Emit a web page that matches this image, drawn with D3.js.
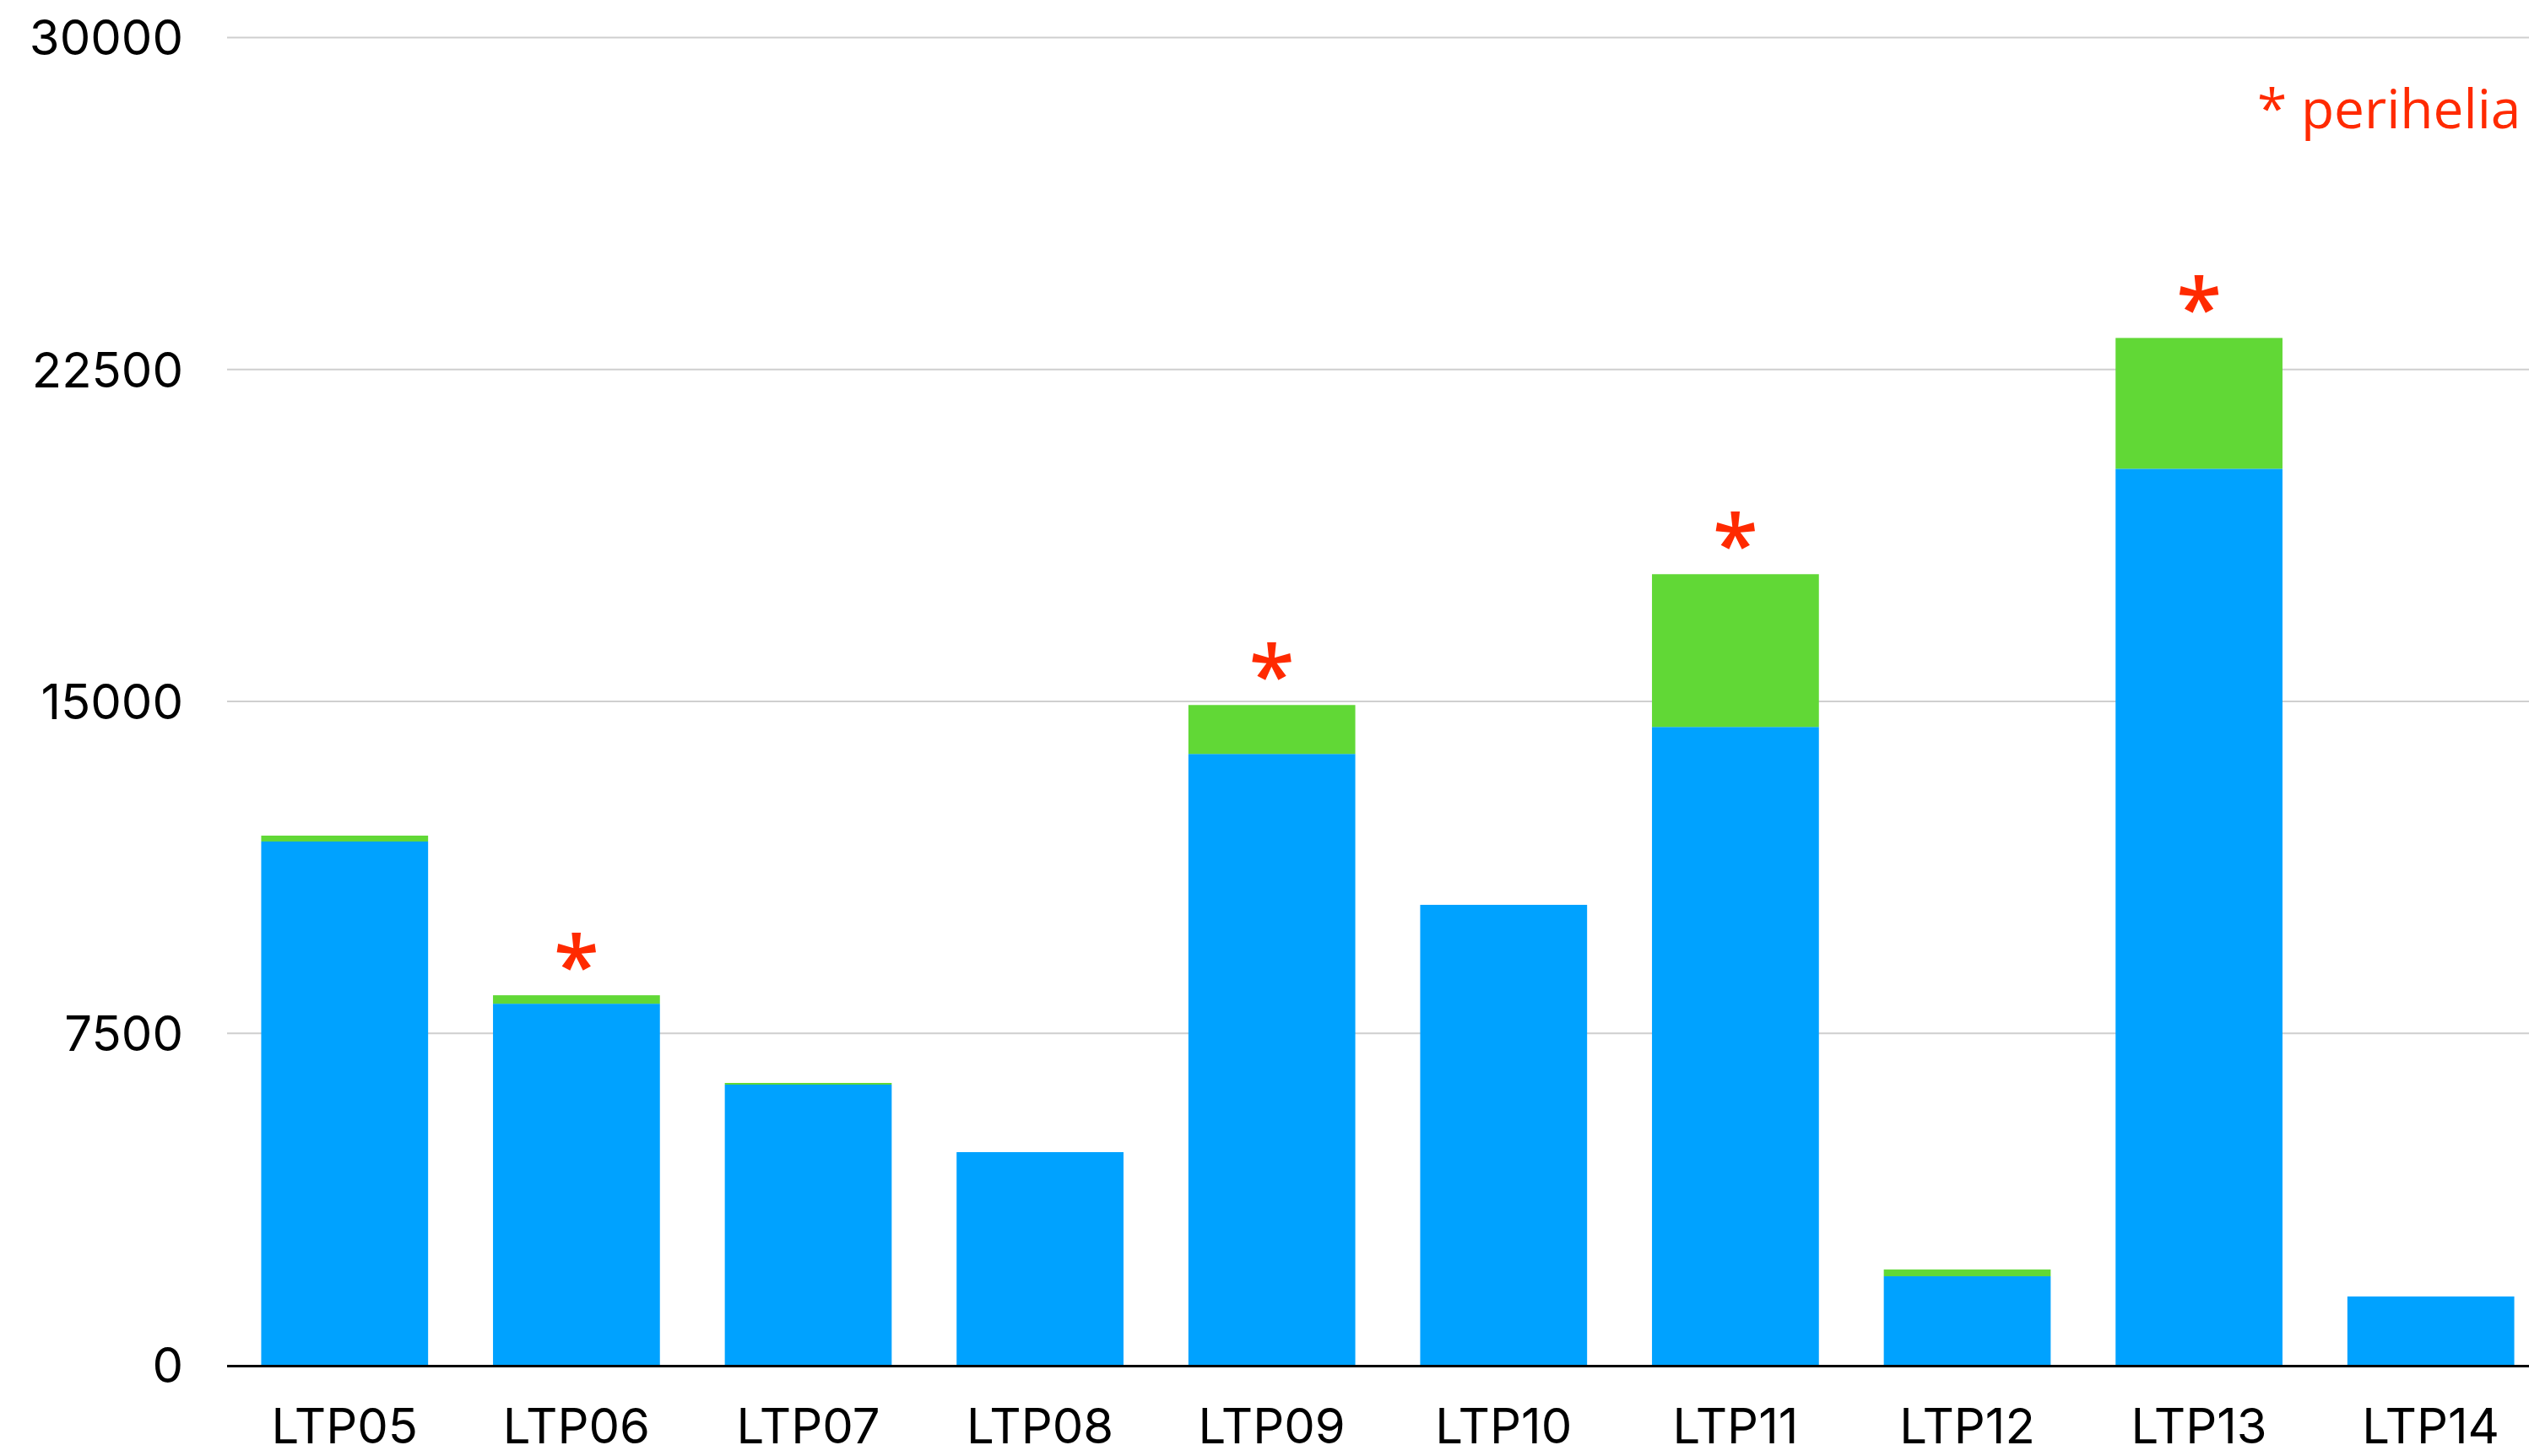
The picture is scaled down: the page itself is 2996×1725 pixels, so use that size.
<!DOCTYPE html>
<html>
<head>
<meta charset="utf-8">
<script src="https://cdn.jsdelivr.net/npm/d3@7/dist/d3.min.js"></script>
<style>
  html, body { margin: 0; padding: 0; background: #ffffff; overflow: hidden; }
  svg { display: block; }
</style>
</head>
<body>
<script>
// Long-term plan periods and their totals: blue = base amount, green = extra on top
const categories = ["LTP05", "LTP06", "LTP07", "LTP08", "LTP09", "LTP10", "LTP11", "LTP12", "LTP13", "LTP14"];
const baseValues = [11825, 8160, 6332, 4806, 13804, 10394, 14414, 2002, 20248, 1544];
const extraValues = [133, 191, 38, 0, 1105, 0, 3451, 152, 2955, 0];
const perihelia = ["LTP06", "LTP09", "LTP11", "LTP13"];
const yTickValues = [0, 7500, 15000, 22500, 30000];
const legendText = "* perihelia";

const W = 2996, H = 1725;
const plotLeft = 269, plotRight = 3017, plotTop = 44, plotBottom = 1617;

const colors = { base: "#00A2FF", extra: "#61D836", mark: "#FF2A00", grid: "#CFCFCF" };

const rows = categories.map((c, i) => ({ cat: c, base: baseValues[i], extra: extraValues[i] }));
const stacked = d3.stack().keys(["base", "extra"])(rows);

const svg = d3.select("body").append("svg").attr("width", W).attr("height", H);

const x = d3.scaleBand().domain(categories).range([plotLeft + 2, plotRight]).paddingInner(0.28).paddingOuter(0.14);
const y = d3.scaleLinear().domain([0, 30000]).range([plotBottom, plotTop]);

// Horizontal gridlines with value labels
const yAxis = d3.axisLeft(y).tickValues(yTickValues).tickFormat(d3.format("d"))
  .tickSize(-(W - plotLeft)).tickPadding(52);
const gy = svg.append("g").attr("transform", `translate(${plotLeft},0)`).call(yAxis);
gy.select(".domain").remove();
gy.selectAll(".tick line").attr("stroke", colors.grid).attr("stroke-width", 2);
gy.selectAll(".tick text")
  .attr("font-family", "Inter, 'Liberation Sans', sans-serif")
  .attr("font-size", 58).attr("fill", "#000").attr("dy", "0.36em");
gy.selectAll(".tick").filter(d => d === 0).select("line").remove();

// Stacked bars
const seriesColor = { base: colors.base, extra: colors.extra };
svg.append("g").selectAll("g").data(stacked).join("g")
  .attr("fill", s => seriesColor[s.key])
  .selectAll("rect").data(s => s.filter(d => d[1] > d[0])).join("rect")
  .attr("x", d => x(d.data.cat))
  .attr("width", x.bandwidth())
  .attr("y", d => y(d[1]))
  .attr("height", d => y(d[0]) - y(d[1]));

// Category axis
const xAxis = d3.axisBottom(x).tickSize(0).tickPadding(52);
const gx = svg.append("g").attr("transform", `translate(0,${plotBottom})`).call(xAxis);
gx.select(".domain").remove();
gx.selectAll(".tick text")
  .attr("font-family", "Inter, 'Liberation Sans', sans-serif")
  .attr("font-size", 58).attr("fill", "#000").attr("dy", "0.71em");

svg.append("line")
  .attr("x1", plotLeft).attr("x2", W)
  .attr("y1", plotBottom + 1.5).attr("y2", plotBottom + 1.5)
  .attr("stroke", "#000").attr("stroke-width", 3);

// Perihelion markers above the bar totals
svg.append("g").selectAll("text").data(rows.filter(r => perihelia.includes(r.cat))).join("text")
  .attr("x", d => x(d.cat) + x.bandwidth() / 2)
  .attr("y", d => y(d.base + d.extra))
  .attr("text-anchor", "middle")
  .attr("font-family", "'Open Sans', sans-serif")
  .attr("font-weight", 600)
  .attr("font-size", 98)
  .attr("fill", colors.mark)
  .text("*");

// Legend note
svg.append("text")
  .attr("x", 2674).attr("y", 152)
  .attr("font-family", "'Open Sans', sans-serif")
  .attr("font-size", 64)
  .attr("fill", colors.mark)
  .text(legendText);
</script>
</body>
</html>
